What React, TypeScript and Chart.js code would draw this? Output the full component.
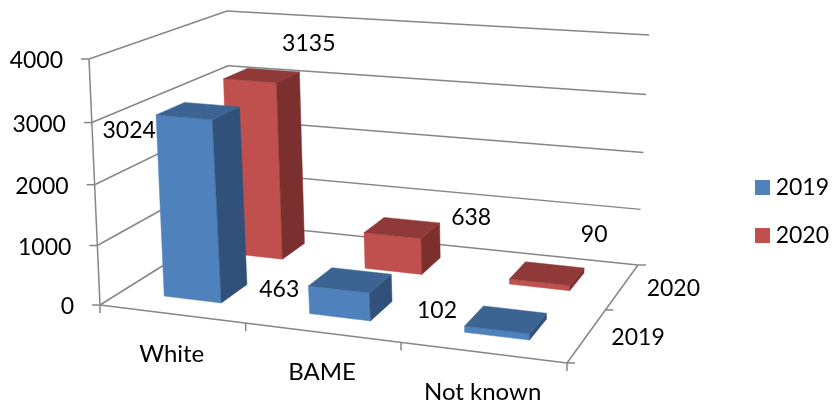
import React, { useEffect, useRef } from "react";
import { Chart, registerables } from "chart.js";

Chart.register(...registerables);

const categories = ["White", "BAME", "Not known"];
const seriesNames = ["2019", "2020"];
const values2019 = [3024, 463, 102];
const values2020 = [3135, 638, 90];
const valueTicks = [0, 1000, 2000, 3000, 4000];

type Pt = [number, number];

// Projection of the 3D box: floor and ceiling of the plot, front-left, front-right, back-right, back-left
const FLOOR: Pt[] = [[100, 305], [567, 363], [638, 265], [231, 223]];
const CEILING: Pt[] = [[89, 59], [576, 98], [649, 35], [227, 11]];
const HEIGHT_SKEW = 0.045;
const DIGIT_FONT = "23px Lato";
const WORD_FONT = "24px Lato";
const AXIS = "#868686";
const FACES = [
  { front: "#4F81BD", top: "#3C6492", side: "#31507A" },
  { front: "#C0504D", top: "#8F3A38", side: "#7B2F2E" },
];
// label placement relative to the centre of each bar's top face
const LABEL_OFFSETS: Pt[][] = [
  [[-69, 20], [-71, 9], [-69, -9.5]],
  [[47, -31.5], [69, -10], [47, -39]],
];

function makeHomography(q: Pt[]) {
  const [p0, p1, p2, p3] = q;
  const dx1 = p1[0] - p2[0], dx2 = p3[0] - p2[0], sx = p0[0] - p1[0] + p2[0] - p3[0];
  const dy1 = p1[1] - p2[1], dy2 = p3[1] - p2[1], sy = p0[1] - p1[1] + p2[1] - p3[1];
  const den = dx1 * dy2 - dx2 * dy1;
  const g = (sx * dy2 - dx2 * sy) / den;
  const h = (dx1 * sy - sx * dy1) / den;
  const a = p1[0] - p0[0] + g * p1[0];
  const b = p3[0] - p0[0] + h * p3[0];
  const d = p1[1] - p0[1] + g * p1[1];
  const e = p3[1] - p0[1] + h * p3[1];
  return (s: number, t: number): Pt => {
    const w = 1 + g * s + h * t;
    return [(a * s + b * t + p0[0]) / w, (d * s + e * t + p0[1]) / w];
  };
}

const floorAt = makeHomography(FLOOR);
const ceilingAt = makeHomography(CEILING);

const threeDPlugin = {
  id: "threeD",
  beforeDatasetsDraw(chart: any) {
    const ctx: CanvasRenderingContext2D = chart.ctx;
    const yScale = chart.scales.y;
    const xScale = chart.scales.x;
    const nCat = chart.data.labels.length;
    const nSer = chart.data.datasets.length;

    // value -> fraction of the wall height, through the value scale
    const frac = (v: number) => {
      const d = (yScale.bottom - yScale.getPixelForValue(v)) / (yScale.bottom - yScale.top);
      return d / (1 + HEIGHT_SKEW * (1 - d));
    };
    const project = (s: number, t: number, v: number): Pt => {
      const f = floorAt(s, t);
      const c = ceilingAt(s, t);
      const k = frac(v);
      return [f[0] + (c[0] - f[0]) * k, f[1] + (c[1] - f[1]) * k];
    };
    const line = (a: Pt, b: Pt) => {
      ctx.beginPath();
      ctx.moveTo(a[0], a[1]);
      ctx.lineTo(b[0], b[1]);
      ctx.stroke();
    };
    const poly = (pts: Pt[], color: string) => {
      ctx.beginPath();
      pts.forEach((p, i) => (i ? ctx.lineTo(p[0], p[1]) : ctx.moveTo(p[0], p[1])));
      ctx.closePath();
      ctx.fillStyle = color;
      ctx.fill();
      ctx.strokeStyle = color;
      ctx.lineWidth = 0.5;
      ctx.stroke();
    };
    const text = (s: string, x: number, y: number, align: CanvasTextAlign, font = DIGIT_FONT) => {
      ctx.font = font;
      ctx.fillStyle = "#000000";
      ctx.textAlign = align;
      ctx.textBaseline = "middle";
      ctx.fillText(s, x, y);
    };

    ctx.save();

    // walls and axes
    yScale.ticks.forEach((tick: any) => {
      const fl = project(0, 0, tick.value);
      const bl = project(0, 1, tick.value);
      const br = project(1, 1, tick.value);
      ctx.strokeStyle = AXIS;
      ctx.lineWidth = 1.5;
      line(fl, bl);
      line(bl, br);
      line([fl[0] - 8, fl[1]], fl);
      text(String(tick.value), fl[0] - 26, fl[1] + 2, "right");
    });
    ctx.strokeStyle = AXIS;
    ctx.lineWidth = 1.5;
    line(project(0, 0, yScale.min), project(0, 0, yScale.max));
    line(floorAt(0, 0), floorAt(1, 0));
    line(floorAt(1, 0), floorAt(1, 1));
    for (let i = 0; i <= nCat; i++) {
      const p = floorAt(i / nCat, 0);
      line(p, [p[0], p[1] + 8]);
    }
    for (let j = 0; j <= nSer; j++) {
      const p = floorAt(1, j / nSer);
      line(p, [p[0] + 8, p[1]]);
    }

    // axis labels
    xScale.ticks.forEach((tick: any, i: number) => {
      const p = floorAt((i + 0.5) / nCat, 0);
      text(String(chart.data.labels[i]), p[0], p[1] + 40, "center", WORD_FONT);
    });
    chart.data.datasets.forEach((ds: any, j: number) => {
      const p = floorAt(1, (j + 0.5) / nSer);
      text(ds.label, p[0] + 51, p[1] + 2, "center");
    });

    // boxes, far series first
    const barW = 0.4;
    const labels: { s: string; x: number; y: number }[] = [];
    for (let j = nSer - 1; j >= 0; j--) {
      const ds = chart.data.datasets[j];
      const faces = FACES[j];
      for (let i = 0; i < nCat; i++) {
        const v = ds.data[i];
        const s0 = (i + (1 - barW) / 2) / nCat;
        const s1 = (i + (1 + barW) / 2) / nCat;
        const t0 = (j + (1 - barW) / 2) / nSer;
        const t1 = (j + (1 + barW) / 2) / nSer;
        const base = yScale.min;
        poly([project(s0, t0, base), project(s1, t0, base), project(s1, t0, v), project(s0, t0, v)], faces.front);
        poly([project(s1, t0, base), project(s1, t1, base), project(s1, t1, v), project(s1, t0, v)], faces.side);
        const topFace = [project(s0, t0, v), project(s1, t0, v), project(s1, t1, v), project(s0, t1, v)];
        poly(topFace, faces.top);
        const cx = topFace.reduce((a, p) => a + p[0], 0) / 4;
        const cy = topFace.reduce((a, p) => a + p[1], 0) / 4;
        const off = LABEL_OFFSETS[j][i];
        labels.push({ s: String(v), x: cx + off[0], y: cy + off[1] });
      }
    }
    labels.forEach((l) => text(l.s, l.x, l.y, "center"));

    ctx.restore();
    return false;
  },
};

export default function App() {
  const ref = useRef<HTMLCanvasElement | null>(null);
  useEffect(() => {
    document.body.style.margin = "0";
    const chart = new Chart(ref.current as HTMLCanvasElement, {
      type: "bar",
      data: {
        labels: categories,
        datasets: [
          { label: seriesNames[0], data: values2019, backgroundColor: FACES[0].front },
          { label: seriesNames[1], data: values2020, backgroundColor: FACES[1].front },
        ],
      },
      options: {
        responsive: false,
        animation: false,
        layout: { padding: { top: 15, right: 4, left: 0, bottom: 0 } },
        scales: {
          x: { display: false },
          y: {
            display: false,
            min: valueTicks[0],
            max: valueTicks[valueTicks.length - 1],
            ticks: { stepSize: valueTicks[1] - valueTicks[0] },
          },
        },
        plugins: {
          tooltip: { enabled: false },
          legend: {
            display: true,
            position: "right",
            maxWidth: 99,
            labels: {
              boxWidth: 15,
              boxHeight: 15,
              padding: 25,
              color: "#000000",
              textAlign: "right",
              font: { family: "Lato", size: 23 },
            },
          },
        },
      } as any,
      plugins: [threeDPlugin],
    });
    return () => chart.destroy();
  }, []);
  return <canvas ref={ref} width={833} height={408} style={{ display: "block" }} />;
}
